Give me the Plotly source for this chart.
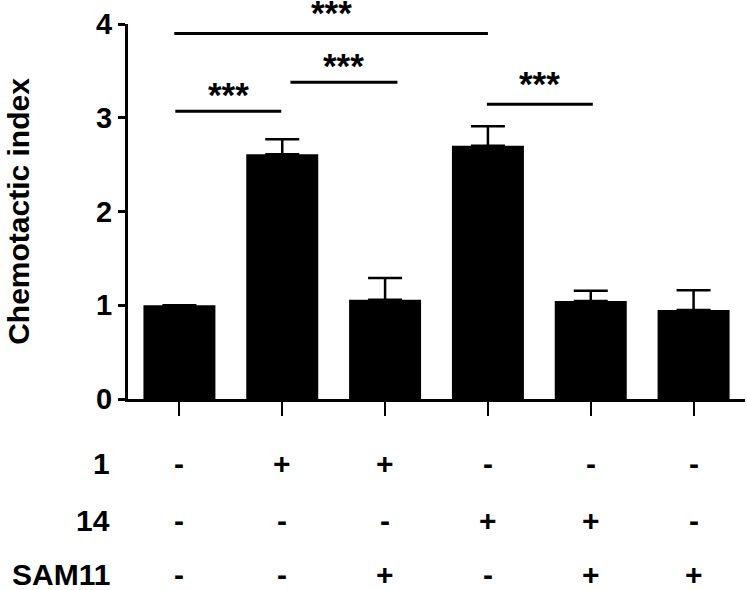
import plotly.graph_objects as go

# ---- data ----
groups = [0, 1, 2, 3, 4, 5]
means = [1.00, 2.61, 1.06, 2.70, 1.045, 0.95]
errors = [0.0, 0.16, 0.23, 0.21, 0.11, 0.21]

row_labels = ["1", "14", "SAM11"]
row_1 = ["-", "+", "+", "-", "-", "-"]
row_14 = ["-", "-", "-", "+", "+", "-"]
row_sam11 = ["-", "-", "+", "-", "+", "+"]

# significance comparisons: (group a, group b, bracket height, label)
comparisons = [
    (0, 3, 3.90, "***"),
    (0, 1, 3.07, "***"),
    (1, 2, 3.38, "***"),
    (3, 4, 3.145, "***"),
]
y_ticks = [0, 1, 2, 3, 4]

FONT = "Liberation Sans, Arial, sans-serif"

fig = go.Figure()
fig.add_trace(go.Bar(
    x=groups, y=means, width=0.70,
    marker=dict(color="black", line=dict(width=0)),
    error_y=dict(type="data", array=errors, arrayminus=[0] * len(errors),
                 symmetric=False, color="black", thickness=2.5, width=17),
    showlegend=False,
))

shapes = []
annotations = []
offsets = [(-0.05, 0.0), (-0.04, -0.01), (0.08, 0.12), (-0.01, 0.02)]
shifts = [-1, -5, -5, -1]
for (a, b, h, lab), (da, db), sh in zip(comparisons, offsets, shifts):
    shapes.append(dict(type="line", xref="x", yref="y", x0=a + da, x1=b + db,
                       y0=h, y1=h, line=dict(color="black", width=3)))
    annotations.append(dict(x=(a + da + b + db) / 2, y=h, xref="x", yref="y",
                            text=lab, showarrow=False, yanchor="bottom", yshift=sh,
                            font=dict(size=35, family=FONT, color="black", weight="bold")))

# bottom table
row_y = [-0.171, -0.323, -0.467]
for ry, name, row in zip(row_y, row_labels, [row_1, row_14, row_sam11]):
    annotations.append(dict(x=-0.026, y=ry, xref="paper", yref="paper", text=name,
                            showarrow=False, xanchor="right", yanchor="middle",
                            font=dict(size=30, family=FONT, color="black", weight="bold")))
    for g, s in zip(groups, row):
        annotations.append(dict(x=g, y=ry, xref="x", yref="paper", text=s,
                                showarrow=False, xanchor="center", yanchor="middle",
                                font=dict(size=30, family=FONT, color="black", weight="bold")))

fig.update_layout(
    width=747, height=590,
    margin=dict(l=128, r=2, t=24, b=191, autoexpand=False),
    plot_bgcolor="white", paper_bgcolor="white",
    font=dict(family=FONT, color="black", weight="bold"),
    shapes=shapes, annotations=annotations,
    bargap=0.3,
)
fig.update_xaxes(range=[-0.5, 5.5], showgrid=False, zeroline=False, automargin=False,
                 showline=True, linecolor="black", linewidth=3,
                 tickmode="array", tickvals=groups, showticklabels=False,
                 ticks="outside", ticklen=14, tickwidth=2, tickcolor="black")
fig.update_yaxes(range=[0, 4], showgrid=False, zeroline=False, automargin=False,
                 showline=True, linecolor="black", linewidth=3,
                 tickmode="array", tickvals=y_ticks,
                 ticks="outside", ticklen=7, tickwidth=3, tickcolor="black",
                 tickfont=dict(size=29, family=FONT, color="black", weight="bold"),
                 title=dict(text="Chemotactic index", standoff=58,
                            font=dict(size=30, family=FONT, color="black", weight="bold")))

fig.write_html("out.html", config={"displayModeBar": False},
               post_script="document.body.style.margin='0';document.body.style.overflow='hidden';")
